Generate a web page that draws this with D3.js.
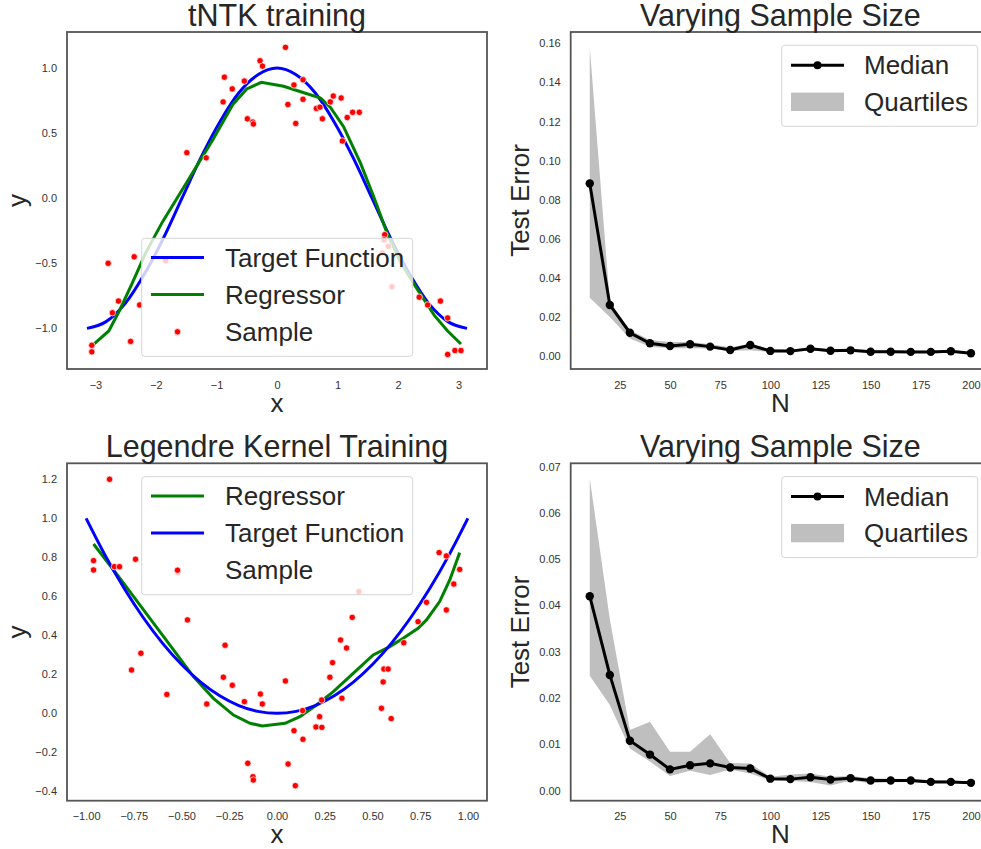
<!DOCTYPE html>
<html>
<head>
<meta charset="utf-8">
<script src="https://cdn.jsdelivr.net/npm/d3@7"></script>
<style>
  body { margin: 0; background: #fff; }
  svg { display: block; overflow: hidden; }
</style>
</head>
<body>
<svg id="fig" width="981" height="849"></svg>
<script>
/*******************
 * Data
 *******************/

// tNTK training: samples, target curve, regressor
const tntkSamples = [
  [-3.06, -1.13], [-3.06, -1.18], [-2.79, -0.50], [-2.72, -0.88], [-2.62, -0.79],
  [-2.42, -1.10], [-2.36, -0.45], [-2.27, -0.82], [-1.84, -0.48], [-1.65, -1.04],
  [-1.49, 0.35], [-1.17, 0.31], [-0.89, 0.74], [-0.87, 0.93], [-0.74, 0.84],
  [-0.54, 0.90], [-0.49, 0.61], [-0.40, 0.585], [-0.39, 0.57], [-0.28, 1.056],
  [-0.24, 1.015], [0.14, 1.159], [0.18, 0.72], [0.28, 0.87], [0.31, 0.575],
  [0.43, 0.91], [0.43, 0.76], [0.65, 0.69], [0.71, 0.70], [0.75, 0.61],
  [0.88, 0.74], [0.93, 0.785], [1.06, 0.77], [1.08, 0.44], [1.16, 0.62],
  [1.25, 0.66], [1.36, 0.66], [1.78, -0.28], [1.77, -0.32], [1.74, -0.42],
  [1.84, -0.37], [1.90, -0.68], [2.35, -0.76], [2.49, -0.82], [2.70, -0.79],
  [2.82, -0.92], [2.82, -1.20], [2.94, -1.17], [3.04, -1.17]
];
const tntkTarget = [
  [-3.14, -1.00], [-2.83, -0.95], [-2.51, -0.81], [-2.20, -0.59], [-1.88, -0.31],
  [-1.57, 0.00], [-1.26, 0.31], [-0.94, 0.59], [-0.63, 0.81], [-0.31, 0.95],
  [0.00, 1.00], [0.31, 0.95], [0.63, 0.81], [0.94, 0.59], [1.26, 0.31],
  [1.57, 0.00], [1.88, -0.31], [2.20, -0.59], [2.51, -0.81], [2.83, -0.95],
  [3.14, -1.00]
];
const tntkRegressor = [
  [-3.05, -1.13], [-2.78, -1.02], [-2.61, -0.87], [-2.39, -0.65], [-2.17, -0.42],
  [-1.89, -0.18], [-1.48, 0.13], [-1.06, 0.45], [-0.73, 0.72], [-0.50, 0.84],
  [-0.26, 0.89], [0.11, 0.86], [0.38, 0.82], [0.72, 0.77], [0.88, 0.70],
  [1.10, 0.55], [1.38, 0.27], [1.60, 0.01], [1.82, -0.27], [2.05, -0.50],
  [2.32, -0.70], [2.60, -0.90], [2.82, -1.02], [3.04, -1.12]
];

// Legendre kernel training
const legSamples = [
  [-0.961, 0.783], [-0.961, 0.735], [-0.877, 1.200], [-0.852, 0.752], [-0.825, 0.752],
  [-0.762, 0.222], [-0.741, 0.790], [-0.713, 0.308], [-0.577, 0.097], [-0.520, 0.721],
  [-0.469, 0.479], [-0.368, 0.048], [-0.281, 0.185], [-0.272, 0.349], [-0.234, 0.144],
  [-0.171, 0.060], [-0.153, -0.256], [-0.126, -0.325], [-0.124, -0.342], [-0.087, 0.099],
  [-0.077, 0.048], [0.044, 0.166], [0.058, -0.260], [0.089, -0.089], [0.096, -0.371],
  [0.134, 0.014], [0.136, -0.133], [0.204, -0.070], [0.223, -0.017], [0.235, -0.072],
  [0.234, 0.068], [0.277, 0.185], [0.291, 0.260], [0.333, 0.376], [0.340, 0.077],
  [0.364, 0.335], [0.394, 0.492], [0.429, 0.624], [0.547, 0.026], [0.556, 0.161],
  [0.560, 0.227], [0.582, 0.227], [0.598, -0.027], [0.664, 0.362], [0.739, 0.470],
  [0.783, 0.569], [0.849, 0.824], [0.887, 0.530], [0.887, 0.807], [0.926, 0.663],
  [0.957, 0.738]
];
const legTarget = [
  [-1.0, 1.00], [-0.9, 0.81], [-0.8, 0.64], [-0.7, 0.49], [-0.6, 0.36], [-0.5, 0.25],
  [-0.4, 0.16], [-0.3, 0.09], [-0.2, 0.04], [-0.1, 0.01], [0.0, 0.00], [0.1, 0.01],
  [0.2, 0.04], [0.3, 0.09], [0.4, 0.16], [0.5, 0.25], [0.6, 0.36], [0.7, 0.49],
  [0.8, 0.64], [0.9, 0.81], [1.0, 1.00]
];
const legRegressor = [
  [-0.961, 0.868], [-0.856, 0.735], [-0.751, 0.598], [-0.647, 0.462], [-0.542, 0.325],
  [-0.438, 0.188], [-0.333, 0.077], [-0.228, -0.009], [-0.141, -0.051], [-0.077, -0.065],
  [0.042, -0.051], [0.120, -0.017], [0.207, 0.043], [0.295, 0.111], [0.399, 0.205],
  [0.504, 0.299], [0.591, 0.342], [0.661, 0.385], [0.739, 0.436], [0.783, 0.479],
  [0.852, 0.573], [0.905, 0.684], [0.957, 0.824]
];

// Varying sample size
const sampleSizes = [10, 20, 30, 40, 50, 60, 70, 80, 90, 100, 110, 120, 130, 140, 150, 160, 170, 180, 190, 200];

const tntkMedian = [0.0883, 0.0261, 0.0119, 0.0065, 0.0051, 0.0060, 0.0048, 0.0031, 0.0056, 0.0026,
                    0.0025, 0.0037, 0.0027, 0.0029, 0.0022, 0.0022, 0.0021, 0.0021, 0.0024, 0.0014];
const tntkUpper  = [0.1580, 0.0278, 0.0133, 0.0082, 0.0072, 0.0072, 0.0060, 0.0045, 0.0062, 0.0035,
                    0.0032, 0.0044, 0.0034, 0.0036, 0.0029, 0.0029, 0.0028, 0.0028, 0.0030, 0.0020];
const tntkLower  = [0.0298, 0.0200, 0.0090, 0.0048, 0.0040, 0.0040, 0.0038, 0.0025, 0.0030, 0.0020,
                    0.0019, 0.0030, 0.0021, 0.0023, 0.0016, 0.0016, 0.0015, 0.0015, 0.0018, 0.0009];

const legMedian = [0.0420, 0.0250, 0.0108, 0.0078, 0.0046, 0.0055, 0.0059, 0.0050, 0.0048, 0.0026,
                   0.0025, 0.0029, 0.0024, 0.0027, 0.0022, 0.0022, 0.0022, 0.0019, 0.0019, 0.0017];
const legUpper  = [0.0674, 0.0370, 0.0131, 0.0149, 0.0084, 0.0084, 0.0122, 0.0060, 0.0059, 0.0030,
                   0.0035, 0.0037, 0.0030, 0.0032, 0.0027, 0.0026, 0.0025, 0.0023, 0.0022, 0.0019];
const legLower  = [0.0248, 0.0185, 0.0091, 0.0063, 0.0032, 0.0043, 0.0034, 0.0046, 0.0037, 0.0022,
                   0.0021, 0.0019, 0.0011, 0.0022, 0.0016, 0.0018, 0.0019, 0.0016, 0.0017, 0.0015];

// tick values
const tntkXTicks = [-3, -2, -1, 0, 1, 2, 3];
const tntkYTicks = [-1.0, -0.5, 0.0, 0.5, 1.0];
const legXTicks = [-1.0, -0.75, -0.5, -0.25, 0, 0.25, 0.5, 0.75, 1.0];
const legYTicks = [-0.4, -0.2, 0.0, 0.2, 0.4, 0.6, 0.8, 1.0, 1.2];
const nTicks = [25, 50, 75, 100, 125, 150, 175, 200];
const err1Ticks = [0, 0.02, 0.04, 0.06, 0.08, 0.10, 0.12, 0.14, 0.16];
const err2Ticks = [0, 0.01, 0.02, 0.03, 0.04, 0.05, 0.06, 0.07];

/*******************
 * Layout
 *******************/
const FONT = "'Liberation Sans', Arial, Helvetica, sans-serif";
const TEXT = "#262626";
const svg = d3.select("#fig");

const boxes = {
  tl: { left: 67, top: 32, right: 487, bottom: 369 },
  tr: { left: 570.7, top: 32, right: 990, bottom: 369 },
  bl: { left: 67, top: 463.3, right: 487, bottom: 800.7 },
  br: { left: 570.7, top: 463.3, right: 990, bottom: 800.7 }
};

function makePanel(box, xDomain, yDomain, xTicks, yTicks, xFmt, yFmt, title, xLabel, yLabel) {
  const x = d3.scaleLinear().domain(xDomain).range([box.left, box.right]);
  const y = d3.scaleLinear().domain(yDomain).range([box.bottom, box.top]);
  const g = svg.append("g");

  const xAxis = g.append("g")
    .attr("transform", `translate(0,${box.bottom})`)
    .call(d3.axisBottom(x).tickValues(xTicks).tickFormat(d3.format(xFmt)).tickSize(0).tickPadding(12));
  const yAxis = g.append("g")
    .attr("transform", `translate(${box.left},0)`)
    .call(d3.axisLeft(y).tickValues(yTicks).tickFormat(d3.format(yFmt)).tickSize(0).tickPadding(10));
  [xAxis, yAxis].forEach(a => {
    a.select(".domain").remove();
    a.selectAll("text").attr("font-family", FONT).attr("font-size", 11).attr("fill", "#333");
  });

  const plot = g.append("g");

  // frame
  g.append("rect")
    .attr("x", box.left).attr("y", box.top)
    .attr("width", box.right - box.left).attr("height", box.bottom - box.top)
    .attr("fill", "none").attr("stroke", "#555").attr("stroke-width", 1.8);

  const cx = (box.left + box.right) / 2;
  g.append("text").text(title)
    .attr("x", cx).attr("y", box.top - 6)
    .attr("text-anchor", "middle").attr("font-family", FONT).attr("font-size", 30.5).attr("fill", TEXT);
  g.append("text").text(xLabel)
    .attr("x", cx).attr("y", box.bottom + 42.5)
    .attr("text-anchor", "middle").attr("font-family", FONT).attr("font-size", 26).attr("fill", TEXT);
  g.append("text").text(yLabel)
    .attr("transform", `translate(${box.left - 41.5},${(box.top + box.bottom) / 2}) rotate(-90)`)
    .attr("text-anchor", "middle").attr("font-family", FONT).attr("font-size", 26).attr("fill", TEXT);

  return { g: plot, x, y, top: g };
}

function legendBox(parent, lx, ly, w, h) {
  const lg = parent.append("g").attr("transform", `translate(${lx},${ly})`);
  lg.append("rect").attr("width", w).attr("height", h).attr("rx", 3)
    .attr("fill", "#fff").attr("fill-opacity", 0.8)
    .attr("stroke", "#d6d6d6").attr("stroke-width", 1);
  return lg;
}

function legendText(lg, label, rowY, tx) {
  lg.append("text").text(label).attr("x", tx).attr("y", rowY + 9.2)
    .attr("font-family", FONT).attr("font-size", 26).attr("fill", TEXT);
}

/*******************
 * Curve panels
 *******************/
function drawFit(panel, samples, target, regressor, order) {
  const line = d3.line().x(d => panel.x(d[0])).y(d => panel.y(d[1]));
  const drawTarget = () => panel.g.append("path").datum(target)
    .attr("d", line.curve(d3.curveMonotoneX)).attr("fill", "none")
    .attr("stroke", "blue").attr("stroke-width", 3);
  const drawReg = () => panel.g.append("path").datum(regressor)
    .attr("d", line.curve(d3.curveLinear)).attr("fill", "none")
    .attr("stroke", "green").attr("stroke-width", 3);
  if (order === "target-first") { drawTarget(); drawReg(); } else { drawReg(); drawTarget(); }

  panel.g.selectAll(".pt").data(samples).enter().append("circle")
    .attr("class", "pt")
    .attr("cx", d => panel.x(d[0])).attr("cy", d => panel.y(d[1]))
    .attr("r", 3.2).attr("fill", "red").attr("stroke", "#fff").attr("stroke-width", 0.7);
}

function fitLegend(panel, box, entries) {
  const lg = legendBox(panel.top, box.left + 74.7, entries.top, 271, 118);
  const rows = [19.3, 56.3, 93.5];
  entries.items.forEach((it, i) => {
    const ry = rows[i];
    if (it.type === "line") {
      lg.append("line").attr("x1", 9.3).attr("x2", 62.3).attr("y1", ry).attr("y2", ry)
        .attr("stroke", it.color).attr("stroke-width", 3);
    } else {
      lg.append("circle").attr("cx", 35.8).attr("cy", ry).attr("r", 3.2)
        .attr("fill", "red").attr("stroke", "#fff").attr("stroke-width", 0.7);
    }
    legendText(lg, it.label, ry, 83.3);
  });
}

const p1 = makePanel(boxes.tl, [-3.47, 3.47], [-1.312, 1.277], tntkXTicks, tntkYTicks, "d", ".1f",
  "tNTK training", "x", "y");
drawFit(p1, tntkSamples, tntkTarget, tntkRegressor, "target-first");
fitLegend(p1, boxes.tl, { top: 238.3, items: [
  { type: "line", color: "blue", label: "Target Function" },
  { type: "line", color: "green", label: "Regressor" },
  { type: "dot", label: "Sample" }
]});

const p3 = makePanel(boxes.bl, [-1.1, 1.1], [-0.448, 1.282], legXTicks, legYTicks, ".2f", ".1f",
  "Legendre Kernel Training", "x", "y");
drawFit(p3, legSamples, legTarget, legRegressor, "reg-first");
fitLegend(p3, boxes.bl, { top: 476.7, items: [
  { type: "line", color: "green", label: "Regressor" },
  { type: "line", color: "blue", label: "Target Function" },
  { type: "dot", label: "Sample" }
]});

/*******************
 * Error panels
 *******************/
function drawError(panel, box, median, lower, upper) {
  const rows = sampleSizes.map((n, i) => ({ n, m: median[i], lo: lower[i], hi: upper[i] }));
  panel.g.append("path").datum(rows)
    .attr("d", d3.area().x(d => panel.x(d.n)).y0(d => panel.y(d.lo)).y1(d => panel.y(d.hi)))
    .attr("fill", "#bfbfbf");
  panel.g.append("path").datum(rows)
    .attr("d", d3.line().x(d => panel.x(d.n)).y(d => panel.y(d.m)))
    .attr("fill", "none").attr("stroke", "#000").attr("stroke-width", 3);
  panel.g.selectAll(".med").data(rows).enter().append("circle")
    .attr("cx", d => panel.x(d.n)).attr("cy", d => panel.y(d.m))
    .attr("r", 4.2).attr("fill", "#000");

  const lg = legendBox(panel.top, box.left + 211, box.top + 13.3, 196, 81);
  lg.append("line").attr("x1", 9.3).attr("x2", 62.3).attr("y1", 20).attr("y2", 20)
    .attr("stroke", "#000").attr("stroke-width", 3);
  lg.append("circle").attr("cx", 35.8).attr("cy", 20).attr("r", 4).attr("fill", "#000");
  legendText(lg, "Median", 20, 82.3);
  lg.append("rect").attr("x", 9.3).attr("y", 47.3).attr("width", 53).attr("height", 18.4)
    .attr("fill", "#bfbfbf");
  legendText(lg, "Quartiles", 56.5, 82.3);
}

const p2 = makePanel(boxes.tr, [0.5, 209.5], [-0.00665, 0.1658], nTicks, err1Ticks, "d", ".2f",
  "Varying Sample Size", "N", "Test Error");
drawError(p2, boxes.tr, tntkMedian, tntkLower, tntkUpper);

const p4 = makePanel(boxes.br, [0.5, 209.5], [-0.00216, 0.0707], nTicks, err2Ticks, "d", ".2f",
  "Varying Sample Size", "N", "Test Error");
drawError(p4, boxes.br, legMedian, legLower, legUpper);
</script>
</body>
</html>
